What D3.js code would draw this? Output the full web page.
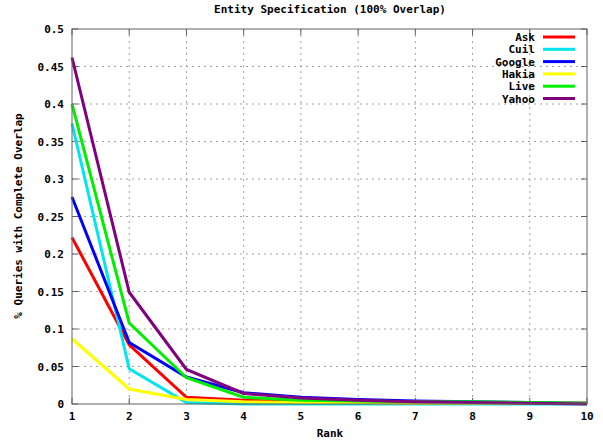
<!DOCTYPE html>
<html>
<head>
<meta charset="utf-8">
<script src="https://cdn.jsdelivr.net/npm/d3@7"></script>
<style>
  body { margin: 0; background: #fff; }
  text { font-family: "DejaVu Sans Mono", monospace; font-weight: bold; font-size: 11px; fill: #000; }
</style>
</head>
<body>
<svg width="603" height="440"></svg>
<script>
const ranks = [1, 2, 3, 4, 5, 6, 7, 8, 9, 10];
const seriesNames = ["Ask", "Cuil", "Google", "Hakia", "Live", "Yahoo"];
const seriesColors = ["#ff0000", "#00e5ee", "#0000ff", "#ffff00", "#00ee00", "#800080"];
const askValues    = [0.222, 0.079, 0.009, 0.005, 0.003, 0.002, 0.001, 0.001, 0.001, 0.001];
const cuilValues   = [0.374, 0.047, 0.002, 0.000, 0.000, 0.000, 0.000, 0.000, 0.000, 0.000];
const googleValues = [0.276, 0.082, 0.036, 0.015, 0.009, 0.006, 0.004, 0.003, 0.002, 0.001];
const hakiaValues  = [0.087, 0.020, 0.006, 0.003, 0.002, 0.002, 0.001, 0.001, 0.001, 0.001];
const liveValues   = [0.400, 0.108, 0.035, 0.009, 0.005, 0.004, 0.003, 0.003, 0.002, 0.001];
const yahooValues  = [0.462, 0.149, 0.046, 0.014, 0.008, 0.005, 0.003, 0.002, 0.001, 0.000];
const yTicks = [0, 0.05, 0.1, 0.15, 0.2, 0.25, 0.3, 0.35, 0.4, 0.45, 0.5];
const yTickLabels = ["0", "0.05", "0.1", "0.15", "0.2", "0.25", "0.3", "0.35", "0.4", "0.45", "0.5"];

const allValues = [askValues, cuilValues, googleValues, hakiaValues, liveValues, yahooValues];

const svg = d3.select("svg");
const plotLeft = 72, plotRight = 587, plotTop = 29, plotBottom = 404;

const x = d3.scaleLinear().domain([1, 10]).range([plotLeft, plotRight]);
const y = d3.scaleLinear().domain([0, 0.5]).range([plotBottom, plotTop]);

// grid
svg.append("g").selectAll("line")
  .data(ranks.slice(1, -1))
  .join("line")
    .attr("x1", d => x(d)).attr("x2", d => x(d))
    .attr("y1", plotTop).attr("y2", plotBottom)
    .attr("stroke", "#a0a0a0").attr("stroke-dasharray", "2,4");
svg.append("g").selectAll("line")
  .data(yTicks.slice(1, -1))
  .join("line")
    .attr("x1", plotLeft).attr("x2", plotRight)
    .attr("y1", d => y(d)).attr("y2", d => y(d))
    .attr("stroke", "#a0a0a0").attr("stroke-dasharray", "2,4");

// tick marks, mirrored like gnuplot
const ticks = svg.append("g").attr("stroke", "#606060");
ranks.forEach(r => {
  ticks.append("line").attr("x1", x(r)).attr("x2", x(r)).attr("y1", plotBottom).attr("y2", plotBottom - 6);
  ticks.append("line").attr("x1", x(r)).attr("x2", x(r)).attr("y1", plotTop).attr("y2", plotTop + 6);
});
yTicks.forEach(t => {
  ticks.append("line").attr("x1", plotLeft).attr("x2", plotLeft + 6).attr("y1", y(t)).attr("y2", y(t));
  ticks.append("line").attr("x1", plotRight).attr("x2", plotRight - 6).attr("y1", y(t)).attr("y2", y(t));
});

// tick labels
svg.append("g").selectAll("text")
  .data(yTicks)
  .join("text")
    .attr("x", plotLeft - 8).attr("y", d => y(d) + 4)
    .attr("text-anchor", "end")
    .text((d, i) => yTickLabels[i]);
svg.append("g").selectAll("text")
  .data(ranks)
  .join("text")
    .attr("x", d => x(d)).attr("y", plotBottom + 16)
    .attr("text-anchor", "middle")
    .text(d => d);

// lines
const line = d3.line().x((d, i) => x(ranks[i])).y(d => y(d));
svg.append("g").selectAll("path")
  .data(allValues)
  .join("path")
    .attr("d", line)
    .attr("fill", "none")
    .attr("stroke", (_, i) => seriesColors[i])
    .attr("stroke-width", 3)
    .attr("stroke-linejoin", "miter");

// frame
svg.append("rect")
  .attr("x", plotLeft).attr("y", plotTop)
  .attr("width", plotRight - plotLeft).attr("height", plotBottom - plotTop)
  .attr("fill", "none").attr("stroke", "#606060");

// legend
const legend = svg.append("g");
seriesNames.forEach((name, i) => {
  const ly = 37 + i * 12.3;
  legend.append("text").attr("x", 535).attr("y", ly + 4).attr("text-anchor", "end").text(name);
  legend.append("line")
    .attr("x1", 543).attr("x2", 575).attr("y1", ly).attr("y2", ly)
    .attr("stroke", seriesColors[i]).attr("stroke-width", 3);
});

// titles
svg.append("text").attr("x", 330).attr("y", 13).attr("text-anchor", "middle")
  .text("Entity Specification (100% Overlap)");
svg.append("text").attr("x", 330).attr("y", 437).attr("text-anchor", "middle").text("Rank");
svg.append("text")
  .attr("transform", "translate(22,216) rotate(-90)")
  .attr("text-anchor", "middle")
  .text("% Queries with Complete Overlap");
</script>
</body>
</html>
